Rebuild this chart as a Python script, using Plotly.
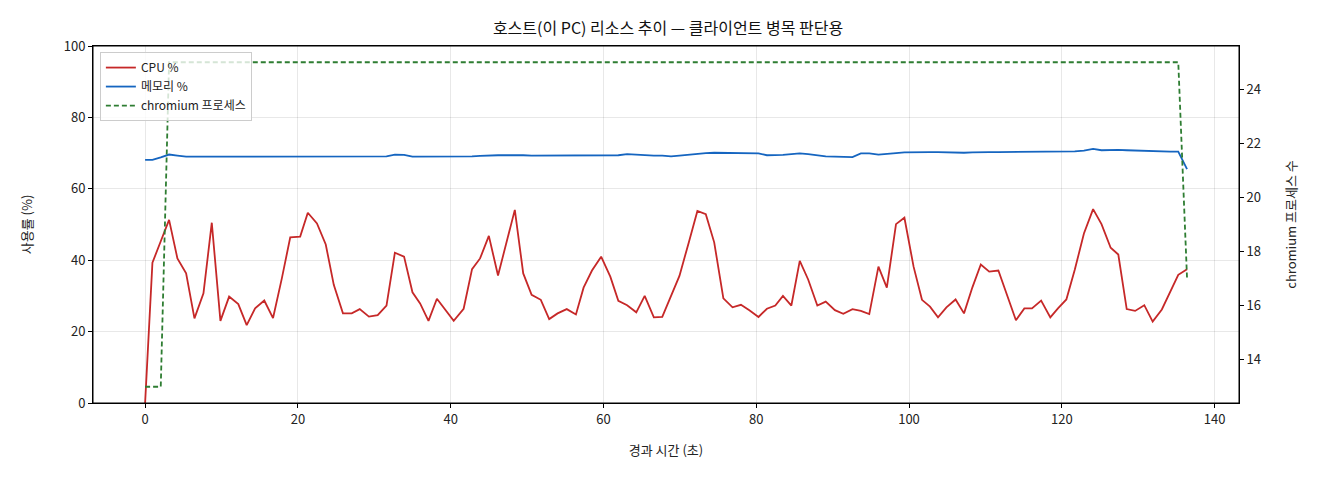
import plotly.graph_objects as go

# 경과 시간 (초)
elapsed = [0, 0.96, 2.05, 3.14, 4.23, 5.37, 6.46, 7.64, 8.73, 9.86,
           11.0, 12.2, 13.3, 14.4, 15.6, 16.75, 17.9, 19.0, 20.3, 21.3,
           22.5, 23.65, 24.7, 25.9, 27.05, 28.1, 29.3, 30.45, 31.6, 32.7,
           33.9, 35.0, 36.0, 37.1, 38.2, 39.4, 40.4, 41.7, 42.8, 43.85,
           45.0, 46.2, 47.3, 48.4, 49.5, 50.6, 51.8, 52.9, 54.0, 55.2,
           56.4, 57.4, 58.5, 59.7, 60.9, 61.95, 63.1, 64.3, 65.4, 66.6,
           67.7, 68.85, 69.95, 71.2, 72.3, 73.4, 74.5, 75.7, 76.9, 78.0,
           79.1, 80.3, 81.4, 82.5, 83.5, 84.6, 85.7, 86.8, 88.0, 89.1,
           90.3, 91.4, 92.6, 93.7, 94.8, 96.0, 97.1, 98.3, 99.4, 100.6,
           101.7, 102.75, 103.8, 104.9, 106.1, 107.2, 108.3, 109.4, 110.5, 111.7,
           112.8, 114.0, 115.1, 116.1, 117.3, 118.5, 119.5, 120.6, 121.7, 122.9,
           124.1, 125.2, 126.4, 127.4, 128.5, 129.6, 130.8, 131.9, 133.1, 134.2,
           135.25, 136.4]

cpu_pct = [0, 39.3, 45.3, 51.3, 40.5, 36.3, 23.7, 30.7, 50.5, 23.0,
           29.8, 27.7, 21.8, 26.5, 28.7, 23.8, 34.9, 46.4, 46.6, 53.3,
           50.3, 44.4, 33.1, 25.1, 25.1, 26.3, 24.2, 24.6, 27.3, 42.1,
           41.0, 31.0, 27.9, 23.0, 29.2, 26.0, 23.0, 26.4, 37.5, 40.5,
           46.8, 35.7, 44.7, 54.1, 36.3, 30.3, 28.9, 23.5, 25.1, 26.3,
           24.8, 32.3, 37.1, 41.0, 35.4, 28.6, 27.4, 25.4, 30.0, 24.0,
           24.1, 30.0, 35.6, 45.2, 53.8, 52.9, 45.0, 29.3, 26.8, 27.5,
           26.0, 24.1, 26.4, 27.3, 30.0, 27.3, 39.8, 34.6, 27.3, 28.4,
           26.0, 25.0, 26.3, 25.8, 24.9, 38.2, 32.3, 50.1, 51.9, 38.2,
           28.9, 27.0, 24.0, 26.8, 29.0, 25.1, 32.4, 38.8, 36.8, 37.1,
           30.3, 23.2, 26.5, 26.5, 28.7, 24.0, 26.5, 29.0, 37.3, 47.5,
           54.3, 50.1, 43.5, 41.6, 26.3, 25.8, 27.4, 22.8, 26.2, 31.0,
           35.9, 37.5]

mem_pct = [68.1, 68.1, 68.8, 69.6, 69.3, 69.0, 69.0, 69.0, 69.1, 69.1,
           69.1, 69.1, 69.2, 69.1, 69.1, 69.1, 69.2, 69.2, 69.2, 69.1,
           69.2, 69.2, 69.2, 69.2, 69.2, 69.1, 69.1, 69.1, 69.1, 69.6,
           69.5, 69.0, 69.0, 69.1, 69.0, 69.0, 68.9, 69.0, 69.1, 69.2,
           69.4, 69.4, 69.4, 69.5, 69.4, 69.3, 69.3, 69.3, 69.3, 69.2,
           69.2, 69.2, 69.3, 69.4, 69.3, 69.4, 69.7, 69.5, 69.3, 69.3,
           69.3, 69.1, 69.3, 69.6, 69.8, 70.0, 70.1, 70.1, 70.1, 70.0,
           70.0, 69.9, 69.4, 69.4, 69.5, 69.7, 69.9, 69.7, 69.3, 69.1,
           69.0, 69.0, 68.9, 69.9, 69.9, 69.6, 69.7, 70.0, 70.2, 70.3,
           70.3, 70.3, 70.3, 70.2, 70.1, 70.1, 70.2, 70.3, 70.3, 70.3,
           70.3, 70.3, 70.3, 70.3, 70.3, 70.3, 70.3, 70.3, 70.5, 70.7,
           71.2, 70.8, 70.9, 70.9, 70.8, 70.7, 70.6, 70.6, 70.5, 70.4,
           70.4, 65.5]

chromium_procs = [13, 13, 13] + [25] * 118 + [17]

font = "Noto Sans CJK KR, Noto Sans, sans-serif"

fig = go.Figure()
fig.add_trace(go.Scatter(x=elapsed, y=cpu_pct, mode="lines", name="CPU %",
                         line=dict(color="#c62828", width=1.8)))
fig.add_trace(go.Scatter(x=elapsed, y=mem_pct, mode="lines", name="메모리 %",
                         line=dict(color="#1565c0", width=1.8)))
fig.add_trace(go.Scatter(x=elapsed, y=chromium_procs, mode="lines", name="chromium 프로세스",
                         line=dict(color="#2e7d32", width=1.8, dash="5px,3px"),
                         yaxis="y2"))

# page body has an 8px margin, so the plot box is shifted back by that much
fig.update_layout(
    width=1320, height=480,
    margin=dict(l=85, r=89, t=38, b=85),
    plot_bgcolor="white", paper_bgcolor="white",
    font=dict(family=font, size=13, color="#222"),
    title=dict(text="호스트(이 PC) 리소스 추이 — 클라이언트 병목 판단용",
               x=0.5, xanchor="center", y=0.958, yanchor="middle",
               font=dict(size=16, color="#111")),
    showlegend=True,
    legend=dict(x=0.006, y=0.983, xanchor="left", yanchor="top",
                bgcolor="rgba(255,255,255,0.8)", bordercolor="#cccccc", borderwidth=1,
                font=dict(size=12), tracegroupgap=2),
    xaxis=dict(range=[-6.82, 143.2], tickvals=[0, 20, 40, 60, 80, 100, 120, 140],
               title=dict(text="경과 시간 (초)", font=dict(size=13), standoff=19),
               showgrid=True, gridcolor="rgba(0,0,0,0.09)", zeroline=False,
               showline=True, linecolor="black", linewidth=1, mirror=True,
               ticks="outside", ticklen=4, tickcolor="black"),
    yaxis=dict(range=[0, 100], tickvals=[0, 20, 40, 60, 80, 100],
               title=dict(text="사용률 (%)", font=dict(size=13), standoff=28),
               showgrid=True, gridcolor="rgba(0,0,0,0.09)", zeroline=False,
               showline=True, linecolor="black", linewidth=1,
               ticks="outside", ticklen=4, tickcolor="black"),
    yaxis2=dict(range=[12.4, 25.6], tickvals=[14, 16, 18, 20, 22, 24],
                overlaying="y", side="right",
                title=dict(text="chromium 프로세스 수", font=dict(size=13), standoff=26),
                showgrid=False, zeroline=False,
                showline=True, linecolor="black", linewidth=1,
                ticks="outside", ticklen=4, tickcolor="black"),
    shapes=[dict(type="rect", xref="paper", yref="paper", x0=0, y0=0, x1=1, y1=1,
                 line=dict(color="black", width=1), layer="above")],
)

fig.write_html("out.html")
